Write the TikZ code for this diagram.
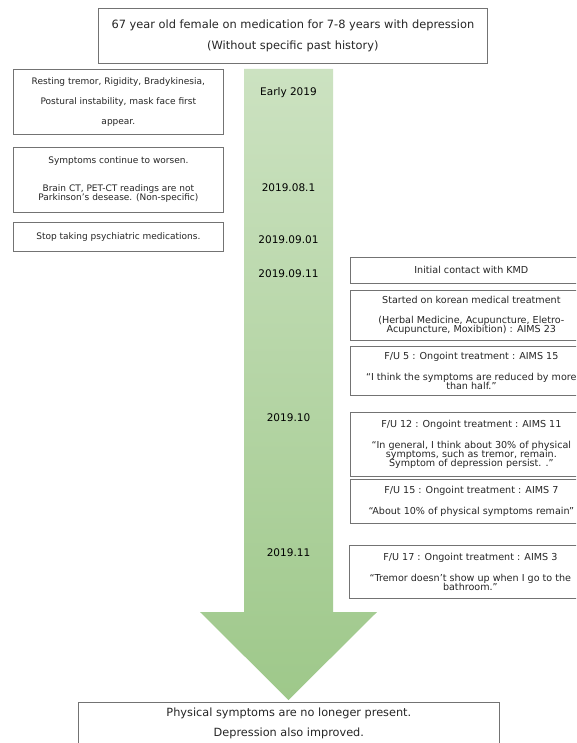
\documentclass[tikz,border=0pt]{standalone}
\usepackage{fontspec}
\setmainfont{DejaVu Sans}
\usetikzlibrary{calc}
\definecolor{arrowtop}{RGB}{204,226,193}
\definecolor{arrowbot}{RGB}{158,200,138}
\lineskiplimit=-100pt

\begin{document}
\begin{tikzpicture}[x=1pt,y=-1pt,
	box/.style={draw=black!55, line width=0.7pt, fill=white, inner sep=0pt, align=center, anchor=north west, text=black!85},
	leftbox/.style={box, minimum width=210pt, font=\fontsize{9}{9}\selectfont},
	rightbox/.style={box, minimum width=242pt, font=\fontsize{9.6}{9}\selectfont},
	datelabel/.style={font=\fontsize{10.5}{12}\selectfont, text=black}]
				\useasboundingbox (0,0) rectangle (576,743);
				\fill[white] (0,0) rectangle (576,743);
				\clip (0,0) rectangle (576,743);
				
				\coordinate (sTL) at (244,69);
				\coordinate (sTR) at (333,69);
				\coordinate (sBR) at (333,612);
				\coordinate (sBL) at (244,612);
				\coordinate (hR) at (377,612);
				\coordinate (hL) at (200,612);
				\coordinate (tip) at (288.5,700);
				
				\shade[top color=arrowtop, bottom color=arrowbot]
				(sTL) -- (sTR) -- (sBR) -- (hR) -- (tip) -- (hL) -- (sBL) -- cycle;
				
				\node[box, minimum width=389pt, minimum height=55pt, font=\fontsize{11.4}{21}\selectfont] (history) at (98,8)
				{67 year old female on medication for 7-8 years with depression\\(Without specific past history)};
				
				\node[leftbox, minimum height=65pt, font=\fontsize{9}{20}\selectfont] (onset) at (13,69)
				{Resting tremor, Rigidity, Bradykinesia,\\Postural instability, mask face first\\appear.};
				\node[leftbox, minimum height=65pt] (worsen) at (13,147)
				{Symptoms continue to worsen.\\[19pt]Brain CT, PET-CT readings are not\\Parkinson’s desease. (Non-specific)};
				\node[leftbox, minimum height=29pt] (stopmed) at (13,222)
				{Stop taking psychiatric medications.};
				
				\foreach \lab/\yy [count=\i] in {Early 2019/93, 2019.08.1/188, 2019.09.01/240, 2019.09.11/274, 2019.10/418, 2019.11/553}{
					\node[datelabel] (date\i) at (288.5,\yy) {\lab};}
				
				\node[rightbox, minimum height=26pt] (kmd) at (350,257)
				{Initial contact with KMD};
				\node[rightbox, minimum height=50pt] (start) at (350,290)
				{Started on korean medical treatment\\[11pt](Herbal Medicine, Acupuncture, Eletro-\\Acupuncture, Moxibition) : AIMS 23};
				\node[rightbox, minimum height=49pt] (fu5) at (350,346)
				{F/U 5 : Ongoint treatment : AIMS 15\\[12pt]“I think the symptoms are reduced by more\\than half.”};
				\node[rightbox, minimum height=64pt] (fu12) at (350,412)
				{F/U 12 : Ongoint treatment : AIMS 11\\[12pt]“In general, I think about 30\% of physical\\symptoms, such as tremor, remain.\\Symptom of depression persist. .”};
				\node[rightbox, minimum height=44pt] (fu15) at (350,479)
				{F/U 15 : Ongoint treatment : AIMS 7\\[12pt]“About 10\% of physical symptoms remain”};
				\node[rightbox, minimum height=53pt] (fu17) at (349,545)
				{F/U 17 : Ongoint treatment : AIMS 3\\[12pt]“Tremor doesn’t show up when I go to the\\bathroom.”};
				
				\node[box, minimum width=421pt, minimum height=42pt, font=\fontsize{11.3}{20}\selectfont] (outcome) at (78,702)
				{Physical symptoms are no loneger present.\\Depression also improved.};
			\end{tikzpicture}
\end{document}
